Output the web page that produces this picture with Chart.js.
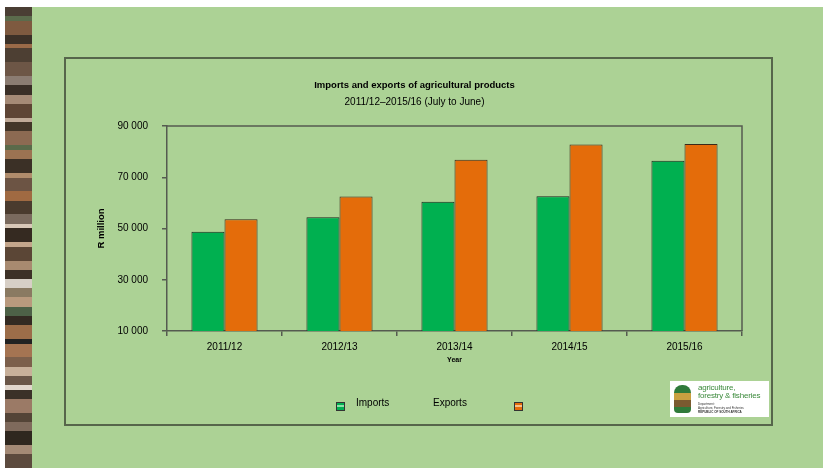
<!DOCTYPE html>
<html>
<head>
<meta charset="utf-8">
<script src="https://cdn.jsdelivr.net/npm/chart.js@4"></script>
<style>
  body { margin: 0; background: #fff; width: 823px; height: 468px; overflow: hidden; position: relative; font-family: "Liberation Sans", Arial, sans-serif; }
  #slide { position: absolute; left: 5px; top: 7px; width: 818px; height: 461px; background: #acd295; }
  #strip { position: absolute; left: 5px; top: 7px; width: 27px; height: 461px;
    background: linear-gradient(to bottom,
      #4a3e34 0 2%, #5b6b4c 2% 3%, #7e5a40 3% 6%, #3c3128 6% 8%, #9a6a48 8% 9%, #4d3f33 9% 12%,
      #6d5646 12% 15%, #8b7c72 15% 17%, #3a2f27 17% 19%, #a58a76 19% 21%, #5e4535 21% 24%,
      #c0aa98 24% 25%, #433629 25% 27%, #8c6a52 27% 30%, #5a6a4a 30% 31%, #9c7352 31% 33%,
      #3b3026 33% 36%, #b08c6c 36% 37%, #6c5444 37% 40%, #a06a42 40% 42%, #4a3b2e 42% 45%,
      #7a6a5e 45% 47%, #d8c8b8 47% 48%, #352a21 48% 51%, #c4a68c 51% 52%, #5b4636 52% 55%,
      #a88a70 55% 57%, #3d3127 57% 59%, #d7cfc6 59% 61%, #8a7a62 61% 63%, #b99a7e 63% 65%,
      #4d6147 65% 67%, #332a22 67% 69%, #9c6d49 69% 72%, #222 72% 73%, #a57452 73% 76%,
      #7c5f4b 76% 78%, #c8b09a 78% 80%, #6a5648 80% 82%, #e1d6cc 82% 83%, #3b3128 83% 85%,
      #9b7a66 85% 88%, #544437 88% 90%, #7f6a5c 90% 92%, #2f271f 92% 95%, #a48a76 95% 97%, #5c4a3e 97% 100%); }
  #frame { position: absolute; left: 64px; top: 57px; width: 705px; height: 365px; border: 2px solid #56664b; }
  #chart { position: absolute; left: 0; top: 0; }
  .leg { position: absolute; font-size: 10px; color: #000; }
  .sw { position: absolute; width: 7px; height: 7px; border: 1px solid #333; }
  #logo { position: absolute; left: 670px; top: 381px; width: 99px; height: 36px; background: #fff; }
  #logo .t { position: absolute; left: 28px; color: #3c8a3c; font-size: 8px; line-height: 8px; white-space: nowrap; letter-spacing: -0.2px; }
  #logo .s { position: absolute; left: 28px; color: #333; font-size: 3px; line-height: 3px; white-space: nowrap; }
</style>
</head>
<body>
<div id="slide"></div>
<div id="strip"></div>
<div id="frame"></div>
<canvas id="chart" width="823" height="468"></canvas>

<div class="sw" style="left:336px;top:402px;background:linear-gradient(#00b050 0 35%,#8fe0a8 35% 60%,#00b050 60%)"></div>
<div class="leg" style="left:356px;top:397px">Imports</div>
<div class="leg" style="left:433px;top:397px">Exports</div>
<div class="sw" style="left:514px;top:402px;background:linear-gradient(#e46c0a 0 35%,#f5c08a 35% 60%,#e46c0a 60%)"></div>

<div id="logo">
  <div style="position:absolute;left:4px;top:4px;width:17px;height:28px;background:linear-gradient(#2f7a3a 0 30%,#c8a040 30% 55%,#7a5a30 55% 80%,#2f7a3a 80%);border-radius:8px 8px 4px 4px"></div>
  <div class="t" style="top:3px">agriculture,</div>
  <div class="t" style="top:11px">forestry &amp; fisheries</div>
  <div class="s" style="top:22px">Department:</div>
  <div class="s" style="top:26px">Agriculture, Forestry and Fisheries</div>
  <div class="s" style="top:30px;font-weight:bold">REPUBLIC OF SOUTH AFRICA</div>
</div>

<script>
// data
const years = ['2011/12', '2012/13', '2013/14', '2014/15', '2015/16'];
const imports = [48700, 54400, 60400, 62600, 76400];
const exportsR = [53600, 62500, 76800, 82800, 83000];
const yMin = 10000, yMax = 90000, yStep = 20000;

const FONT = '"Liberation Sans", Arial, sans-serif';
const AXIS = '#555b50';

// top + right edges of the plot frame
const plotFrame = {
  id: 'plotFrame',
  afterDatasetsDraw(chart) {
    const { ctx, chartArea: a } = chart;
    ctx.save();
    ctx.strokeStyle = AXIS;
    ctx.lineWidth = 1.5;
    ctx.beginPath();
    ctx.moveTo(a.left, a.top);
    ctx.lineTo(a.right, a.top);
    ctx.lineTo(a.right, a.bottom);
    ctx.stroke();
    ctx.restore();
  }
};

new Chart(document.getElementById('chart'), {
  type: 'bar',
  data: {
    labels: years,
    datasets: [
      { label: 'Imports', data: imports, backgroundColor: '#00b050', borderColor: '#1e2a1e', borderWidth: 1 },
      { label: 'Exports', data: exportsR, backgroundColor: '#e46c0a', borderColor: '#3a2a1a', borderWidth: 1 }
    ]
  },
  options: {
    responsive: false,
    devicePixelRatio: 1,
    animation: false,
    datasets: { bar: { barPercentage: 1, categoryPercentage: 0.575 } },
    layout: { padding: { left: 87, right: 81, top: 60, bottom: 97 } },
    plugins: {
      legend: { display: false },
      tooltip: { enabled: false },
      title: {
        display: true, text: 'Imports and exports of agricultural products', color: '#000',
        font: { family: FONT, size: 9.5, weight: 'bold' }, padding: { top: 20, bottom: 0 }
      },
      subtitle: {
        display: true, text: '2011/12\u20132015/16 (July to June)', color: '#000',
        font: { family: FONT, size: 10 }, padding: { top: 5, bottom: 17.6 }
      }
    },
    scales: {
      x: {
        afterFit: s => { s.height = 40; },
        grid: { drawOnChartArea: false, color: AXIS, tickLength: 5, lineWidth: 1.5 },
        border: { color: AXIS, width: 1.5 },
        ticks: { color: '#000', font: { family: FONT, size: 10 }, padding: 5, maxRotation: 0 },
        title: { display: true, text: 'Year', color: '#000', font: { family: FONT, size: 7, weight: 'bold' }, padding: { top: 0, bottom: 7 } }
      },
      y: {
        min: yMin, max: yMax,
        afterFit: s => { s.width = 80; },
        grid: { drawOnChartArea: false, color: AXIS, tickLength: 5, lineWidth: 1.5 },
        border: { color: AXIS, width: 1.5 },
        ticks: {
          stepSize: yStep, color: '#000', font: { family: FONT, size: 10 }, padding: 14,
          callback: v => String(v).replace(/\B(?=(\d{3})+(?!\d))/g, ' ')
        },
        title: { display: true, text: 'R million', color: '#000', font: { family: FONT, size: 9.5, weight: 'bold' }, padding: { top: 9, bottom: 0 } }
      }
    }
  },
  plugins: [plotFrame]
});
</script>
</body>
</html>
